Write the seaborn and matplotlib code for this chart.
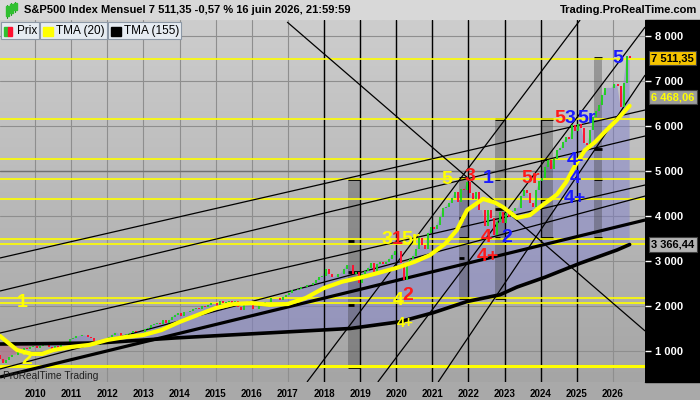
import numpy as np
import matplotlib
matplotlib.use("Agg")
import matplotlib.pyplot as plt
import seaborn as sns
from matplotlib.patches import Rectangle
from matplotlib.colors import LinearSegmentedColormap

# monthly closes S&P500, Jan 2009 .. Jun 2026
closes = [
    825.9, 735.1, 797.9, 872.8, 919.1, 919.3, 987.5, 1020.6, 1057.1, 1036.2, 1095.6, 1115.1,
    1073.9, 1104.5, 1169.4, 1186.7, 1089.4, 1030.7, 1101.6, 1049.3, 1141.2, 1183.3, 1180.6, 1257.6,
    1286.1, 1327.2, 1325.8, 1363.6, 1345.2, 1320.6, 1292.3, 1218.9, 1131.4, 1253.3, 1247.0, 1257.6,
    1312.4, 1365.7, 1408.5, 1397.9, 1310.3, 1362.2, 1379.3, 1406.6, 1440.7, 1412.2, 1416.2, 1426.2,
    1498.1, 1514.7, 1569.2, 1597.6, 1630.7, 1606.3, 1685.7, 1633.0, 1681.6, 1756.5, 1805.8, 1848.4,
    1782.6, 1859.5, 1872.3, 1883.9, 1923.6, 1960.2, 1930.7, 2003.4, 1972.3, 2018.1, 2067.6, 2058.9,
    1995.0, 2104.5, 2067.9, 2085.5, 2107.4, 2063.1, 2103.8, 1972.2, 1920.0, 2079.4, 2080.4, 2043.9,
    1940.2, 1932.2, 2059.7, 2065.3, 2096.9, 2098.9, 2173.6, 2171.0, 2168.3, 2126.2, 2198.8, 2238.8,
    2278.9, 2363.6, 2362.7, 2384.2, 2411.8, 2423.4, 2470.3, 2471.7, 2519.4, 2575.3, 2647.6, 2673.6,
    2823.8, 2713.8, 2640.9, 2648.1, 2705.3, 2718.4, 2816.3, 2901.5, 2914.0, 2711.7, 2760.2, 2506.9,
    2704.1, 2784.5, 2834.4, 2945.8, 2752.1, 2941.8, 2980.4, 2926.5, 2976.7, 3037.6, 3141.0, 3230.8,
    3225.5, 2954.2, 2584.6, 2912.4, 3044.3, 3100.3, 3271.1, 3500.3, 3363.0, 3270.0, 3621.6, 3756.1,
    3714.2, 3811.2, 3972.9, 4181.2, 4204.1, 4297.5, 4395.3, 4522.7, 4307.5, 4605.4, 4567.0, 4766.2,
    4515.6, 4373.9, 4530.4, 4131.9, 4132.2, 3785.4, 4130.3, 3955.0, 3585.6, 3872.0, 4080.1, 3839.5,
    4076.6, 3970.2, 4109.3, 4169.5, 4179.8, 4450.4, 4589.0, 4507.7, 4288.1, 4193.8, 4567.8, 4769.8,
    4845.7, 5096.3, 5254.4, 5035.7, 5277.5, 5460.5, 5522.3, 5648.4, 5762.5, 5705.5, 6032.4, 5881.6,
    6040.5, 5954.5, 5611.9, 5569.1, 5911.7, 6205.0, 6339.4, 6460.3, 6688.5, 6840.2, 6849.1, 6845.5,
    6940.0, 6880.0, 6420.0, 6950.0, 7555.0, 7511.35,
]
first_open = 903.3
first_year = 2009

# moving averages
tma20_dates = [2009.03, 2009.5, 2009.9, 2010.2, 2010.5, 2011.0, 2011.5, 2012.0, 2012.5, 2013.0,
               2013.5, 2014.0, 2014.5, 2015.0, 2015.5, 2016.0, 2016.5, 2017.0, 2017.5, 2018.0,
               2018.5, 2019.0, 2019.5, 2020.0, 2020.5, 2020.93, 2021.35, 2021.68, 2021.96, 2022.4,
               2022.73, 2022.95, 2023.34, 2023.7, 2023.98, 2024.2, 2024.45, 2024.7, 2024.95, 2025.22,
               2025.5, 2025.75, 2026.1, 2026.46]
tma20_vals = [1333, 1022, 935, 935, 1020, 1090, 1135, 1245, 1310, 1355,
              1465, 1645, 1800, 1955, 2045, 2065, 2025, 2045, 2180, 2400,
              2540, 2630, 2735, 2845, 2980, 3130, 3380, 3690, 4130, 4380,
              4300, 4200, 3960, 4020, 4200, 4330, 4480, 4750, 5120, 5460,
              5640, 5850, 6130, 6450]
tma155_dates = [2009.03, 2010.12, 2011.8, 2013.88, 2015.95, 2017.34, 2018.72, 2020.1, 2021.02,
                2021.96, 2022.87, 2023.34, 2024.12, 2025.09, 2026.11, 2026.46]
tma155_vals = [1155, 1162, 1180, 1290, 1380, 1440, 1500, 1650, 1850,
               2100, 2250, 2420, 2640, 2950, 3244, 3366]

support_levels = [7482, 6149, 5267, 4816, 4371, 3489, 3378, 2171, 2060, 667]
cycle_years = [2018, 2019, 2020, 2021, 2022, 2023, 2024, 2025]

# trend lines: year0, price0, year1, price1, width
trend_lines = [
    (2009.03, 3067, 2026.89, 6356, 0.9),
    (2009.03, 2333, 2026.89, 5778, 0.9),
    (2009.03, 1400, 2026.89, 4689, 0.9),
    (2009.03, 600, 2026.89, 4444, 0.9),
    (2009.03, 422, 2026.89, 3911, 2.3),
    (2017.53, 311, 2025.09, 8356, 0.9),
    (2019.49, 311, 2026.89, 8200, 0.9),
    (2021.16, 311, 2026.89, 7133, 0.9),
    (2016.98, 8311, 2026.89, 1444, 0.9),
]

# time boxes: year0, year1, top, bottom, tick levels (True = full width)
time_boxes = [
    (2018.66, 2019.0, 4822, 644, [(4822, True), (3444, False), (2756, True), (2022, False), (644, True)]),
    (2021.74, 2021.99, 4844, 2178, [(4844, True), (3956, False), (3511, True), (3067, False), (2178, True)]),
    (2022.73, 2023.01, 6156, 2178, [(6156, True), (4822, False), (4156, True), (3511, False), (2178, True)]),
    (2024.01, 2024.34, 6156, 3511, [(6156, True), (5267, False), (4378, False), (3511, True)]),
    (2025.47, 2025.70, 7511, 3511, [(7511, True), (5489, True), (4822, True), (3511, True)]),
]

YEL, RED, BLU = '#ffff00', '#ff1a1a', '#1a1aff'
wave_labels = [
    ('1', 2009.64, 2067, YEL, 14), ('2', 2009.78, 800, YEL, 14),
    ('3', 2019.74, 3467, YEL, 14), ('1', 2020.02, 3467, RED, 14), ('5r', 2020.41, 3467, YEL, 14),
    ('4', 2020.05, 2133, YEL, 14), ('2', 2020.33, 2244, RED, 14), ('4+', 2020.24, 1622, YEL, 10.5),
    ('5', 2021.40, 4822, YEL, 14), ('3', 2022.04, 4867, RED, 14), ('1', 2022.54, 4844, BLU, 14),
    ('4', 2022.48, 3533, RED, 14), ('2', 2023.07, 3533, BLU, 14), ('4+', 2022.54, 3089, RED, 14),
    ('5r', 2023.73, 4844, RED, 14), ('5', 2024.53, 6156, RED, 14), ('3', 2024.81, 6156, BLU, 14),
    ('5r', 2025.28, 6156, BLU, 14), ('4-', 2024.95, 5244, BLU, 14), ('4', 2024.95, 4844, BLU, 14),
    ('4+', 2024.95, 4400, BLU, 14), ('5', 2026.14, 7511, BLU, 14),
]

price_tags = [
    ('7 511,35', 7511.35, '#f5c400', 'black'),
    ('6 468,06', 6640, '#9c9c9c', '#ffff00'),
    ('3 366,44', 3366.44, '#b4b4b4', 'black'),
]

sns.set_theme(style="white")
plt.rcParams['font.family'] = ['Liberation Sans', 'DejaVu Sans']

W, H = 700, 400
fig = plt.figure(figsize=(7, 4), dpi=100, facecolor='#a9a9a9')


def fx(x):
    return x / W


def fy(y):
    return 1 - y / H


ax = fig.add_axes([0, fy(382), fx(645), (382 - 20) / H])
x_lo, x_hi = 2009.031, 2026.886
y_lo, y_hi = 311, 8356

# background gradient
cmap = LinearSegmentedColormap.from_list('bg', ['#a5a5a5', '#cdcdcd'])
ax.imshow(np.linspace(0, 1, 256).reshape(-1, 1), extent=[x_lo, x_hi, y_lo, y_hi],
          origin='lower', aspect='auto', cmap=cmap, zorder=0)

ax.set_xlim(x_lo, x_hi)
ax.set_ylim(y_lo, y_hi)
ax.set_xticks(range(2010, 2027))
ax.set_xticklabels([str(y) for y in range(2010, 2027)], fontsize=7, fontweight='bold', color='black')
ax.set_yticks(range(1000, 9000, 1000))
ax.set_yticklabels(['%d 000' % (v // 1000) for v in range(1000, 9000, 1000)],
                   fontsize=8, fontweight='bold', color='white')
ax.yaxis.tick_right()
ax.tick_params(axis='y', colors='white', length=4, width=1, pad=3, direction='out')
ax.tick_params(axis='x', colors='black', length=3, width=1, pad=2, direction='out')
for s in ax.spines.values():
    s.set_visible(False)
ax.grid(True, color='#8e8e8e', lw=0.8)
ax.axhline(5000, color='#707070', lw=1.0, zorder=1.6)

dates = first_year + (np.arange(len(closes)) + 0.5) / 12
closes_a = np.array(closes)
opens = np.r_[first_open, closes_a[:-1]]

# cloud between price and TMA155
ax.fill(np.r_[dates, tma155_dates[::-1]], np.r_[closes_a, tma155_vals[::-1]],
        color='#7c7cd0', alpha=0.45, lw=0, zorder=2)
ax.fill(np.r_[dates[:14], tma155_dates[1::-1]], np.r_[closes_a[:14], tma155_vals[1::-1]],
        color='#c07878', alpha=0.6, lw=0, zorder=2.1)

for x0, x1, top, bot, ticks in time_boxes:
    ax.add_patch(Rectangle((x0, bot), x1 - x0, top - bot, color='#3c3c3c', alpha=0.35, lw=0, zorder=2.5))
    for lvl, full in ticks:
        ax.hlines(lvl, x0, x1 if full else (x0 + x1) / 2, color='black', lw=2, zorder=3)

for yr in cycle_years:
    ax.axvline(yr, color='black', lw=1.0, zorder=3)

for lvl in support_levels:
    ax.axhline(lvl, color=YEL, lw=2.2 if lvl < 1000 else 1.2, zorder=3.2)

for x0, y0, x1, y1, w in trend_lines:
    ax.plot([x0, x1], [y0, y1], color='black', lw=w, zorder=3.5, solid_capstyle='butt')

cols = np.where(closes_a >= opens, '#22d022', '#ff1030')
ax.vlines(dates, np.minimum(opens, closes_a), np.maximum(opens, closes_a), colors=cols, lw=1.4, zorder=4)

sns.lineplot(x=tma155_dates, y=tma155_vals, ax=ax, color='black', lw=2.6, zorder=5)
sns.lineplot(x=tma20_dates, y=tma20_vals, ax=ax, color=YEL, lw=3, zorder=5.1)

for txt, x, y, c, fs in wave_labels:
    ax.text(x, y, txt, color=c, fontsize=fs, fontweight='bold', ha='center', va='center', zorder=6)

ax.text(0.005, 0.004, 'ProRealTime Trading', transform=ax.transAxes, fontsize=7.3,
        color='#202020', ha='left', va='bottom', zorder=6)

tr = ax.get_yaxis_transform()
for txt, val, fc, tc in price_tags:
    ax.text(1.01, val, txt, transform=tr, ha='left', va='center', fontsize=8, fontweight='bold',
            color=tc, clip_on=False, zorder=10,
            bbox=dict(boxstyle='square,pad=0.2', fc=fc, ec='#404040', lw=0.8))

# frame pieces
fig.patches.append(Rectangle((0, fy(20)), 1, 20 / H, transform=fig.transFigure,
                             color='#d8d8d8', zorder=-1))
fig.patches.append(Rectangle((fx(645), fy(382)), 55 / W, 362 / H, transform=fig.transFigure,
                             color='black', zorder=-1))
fig.text(fx(24), fy(10), 'S&P500 Index Mensuel 7 511,35 -0,57 % 16 juin 2026, 21:59:59',
         fontsize=8, fontweight='bold', color='black', ha='left', va='center')
fig.text(fx(697), fy(10), 'Trading.ProRealTime.com', fontsize=8, fontweight='bold',
         color='black', ha='right', va='center')
for cx, c0, c1 in [(7, 6, 16), (11, 4, 13), (15, 3, 10)]:
    fig.lines.append(plt.Line2D([fx(cx), fx(cx)], [fy(c1 + 2), fy(c0 - 1)], transform=fig.transFigure,
                                color='#209020', lw=0.8))
    fig.patches.append(Rectangle((fx(cx - 1.5), fy(c1)), 3 / W, (c1 - c0) / H, transform=fig.transFigure,
                                 color='#30c030', zorder=5))

# legend tabs
legend_tabs = [(1, 39, 'Prix'), (40, 107, 'TMA (20)'), (108, 181, 'TMA (155)')]
for i, (x0, x1, lab) in enumerate(legend_tabs):
    fig.patches.append(Rectangle((fx(x0), fy(39)), (x1 - x0) / W, 17 / H, transform=fig.transFigure,
                                 fc='#e6ecf2', ec='#8c98a6', lw=0.8, zorder=5))
    if i == 0:
        fig.patches.append(Rectangle((fx(x0 + 3), fy(36)), 4 / W, 9 / H, transform=fig.transFigure,
                                     color='#30c030', zorder=6))
        fig.patches.append(Rectangle((fx(x0 + 7), fy(36)), 4 / W, 9 / H, transform=fig.transFigure,
                                     color='#ff1030', zorder=6))
    else:
        fig.patches.append(Rectangle((fx(x0 + 3), fy(36)), 10 / W, 9 / H, transform=fig.transFigure,
                                     color=YEL if i == 1 else 'black', zorder=6))
    fig.text(fx(x0 + 16), fy(31), lab, fontsize=8.5, color='black', ha='left', va='center', zorder=7)

fig.savefig('out.png', dpi=100, facecolor=fig.get_facecolor())
